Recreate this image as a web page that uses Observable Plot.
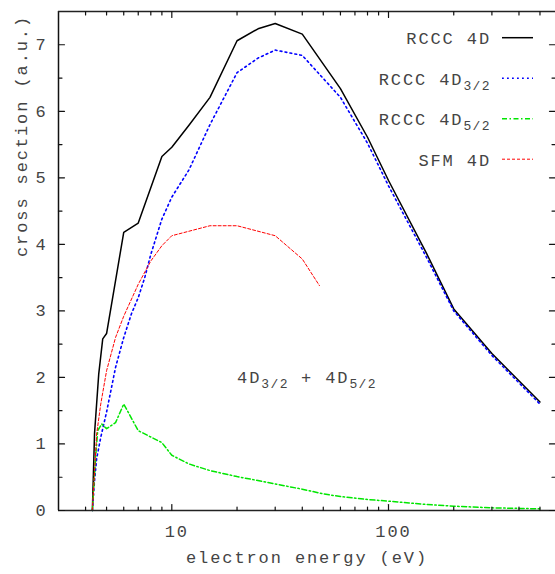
<!DOCTYPE html>
<html><head><meta charset="utf-8">
<script src="https://cdn.jsdelivr.net/npm/d3@7"></script>
<script src="https://cdn.jsdelivr.net/npm/@observablehq/plot@0.6"></script>
<style>
html,body{margin:0;padding:0;background:#fff;overflow:hidden}
</style>
</head><body><div id="chart"></div>
<script>
// ---- data (energy eV, cross section a.u.) ----
const rccc4D = [[4.3,0],[4.4,1.16],[4.6,2.05],[4.8,2.58],[5,2.66],[6,4.18],[7,4.32],[9,5.32],[10,5.46],[12,5.79],[15,6.21],[20,7.06],[25,7.24],[30,7.32],[40,7.16],[60,6.34],[80,5.61],[100,4.96],[150,3.86],[200,3.03],[300,2.36],[500,1.63]];
const rccc4D32 = [[4.3,0],[4.4,0.45],[4.5,0.78],[4.7,1.1],[5,1.48],[5.5,2.15],[6,2.6],[6.5,2.95],[7,3.2],[7.5,3.5],[8,3.85],[9,4.38],[10,4.71],[12,5.12],[15,5.8],[20,6.58],[25,6.8],[30,6.92],[40,6.84],[60,6.21],[80,5.52],[100,4.88],[150,3.8],[200,3.0],[300,2.33],[500,1.6]];
const rccc4D52 = [[4.3,0],[4.45,0.8],[4.55,1.2],[4.75,1.3],[5,1.23],[5.5,1.32],[6,1.6],[7,1.2],[9,1.02],[10,0.83],[12,0.7],[15,0.6],[20,0.51],[30,0.4],[40,0.32],[50,0.25],[60,0.21],[80,0.165],[100,0.14],[150,0.09],[200,0.065],[300,0.04],[500,0.025]];
const sfm4D = [[4.3,0],[4.5,1.15],[4.7,1.6],[5,2.1],[5.5,2.6],[6,2.92],[7,3.4],[8,3.75],[9,3.98],[10,4.13],[15,4.28],[20,4.28],[30,4.13],[40,3.78],[48,3.38]];

const seriesLabels = ["RCCC 4D", "RCCC 4D_{3/2}", "RCCC 4D_{5/2}", "SFM 4D"];
const annotation = [{x: 20, y: 2, text: "4D_{3/2} + 4D_{5/2}"}];

const xMajorTicks = [10, 100];
const xMinorTicks = [4,5,6,7,8,9,20,30,40,50,60,70,80,90,200,300,400,500];
const yMajorTicks = [0,1,2,3,4,5,6,7];
const yMinorTicks = [0.5,1.5,2.5,3.5,4.5,5.5,6.5];
const xDomain = [3, 600];
const yDomain = [0, 7.5];
const xTitle = "electron energy (eV)";
const yTitle = "cross section (a.u.)";

// ---- styles ----
const FONT = "'Liberation Mono', 'DejaVu Sans Mono', monospace";
const TEXT = "#444";
const styles = [
  {data: rccc4D,   stroke: "#000000", width: 1.5, dash: null},
  {data: rccc4D32, stroke: "#0000ff", width: 1.6, dash: "1.8,3.2"},
  {data: rccc4D52, stroke: "#00e600", width: 1.5, dash: "5,2.5,1.5,2.5"},
  {data: sfm4D,    stroke: "#ff0000", width: 1,   dash: "3,2"}
];

const W = 555, H = 574, mL = 58, mT = 11, mB = 64, mR = 0;
const decadePx = 216.7;

const tickShape = {draw(ctx, l) { ctx.moveTo(0, 0); ctx.lineTo(0, -l); }};
const tickMark = (values, ch, anchor, rotate, len) =>
  Plot.vector(values, {[ch]: d => d, frameAnchor: anchor, rotate, length: len, anchor: "start", shape: tickShape, stroke: "#111", strokeWidth: 1.2});

const chart = Plot.plot({
  width: W, height: H,
  marginLeft: mL, marginTop: mT, marginBottom: mB, marginRight: mR,
  x: {type: "log", domain: xDomain, range: [mL, mL + Math.log10(xDomain[1] / xDomain[0]) * decadePx]},
  y: {domain: yDomain},
  style: {fontFamily: FONT, fontSize: "17px", color: TEXT, background: "#fff", letterSpacing: "1.9px", overflow: "hidden"},
  marks: [
    ...styles.map(s => Plot.line(s.data, {x: d => d[0], y: d => d[1], stroke: s.stroke, strokeWidth: s.width, strokeDasharray: s.dash})),
    // frame (left, top, bottom)
    Plot.ruleX([xDomain[0]], {stroke: "#111", strokeWidth: 1.5}),
    Plot.ruleY([yDomain[0]], {stroke: "#222", strokeWidth: 1.6}),
    Plot.ruleY([yDomain[1]], {stroke: "#222", strokeWidth: 1.5}),
    // inward ticks
    tickMark(xMajorTicks, "x", "bottom", 0, 6),
    tickMark(xMinorTicks, "x", "bottom", 0, 3.5),
    tickMark(xMajorTicks, "x", "top", 180, 6),
    tickMark(xMinorTicks, "x", "top", 180, 3.5),
    tickMark(yMajorTicks, "y", "left", 90, 6),
    tickMark(yMinorTicks, "y", "left", 90, 3.5),
    tickMark(yMajorTicks, "y", "right", -90, 6),
    tickMark(yMinorTicks, "y", "right", -90, 3.5),
    // tick labels
    Plot.axisY({ticks: yMajorTicks, tickSize: 0, tickPadding: 11, tickFormat: d => String(d), label: null, fill: TEXT}),
    Plot.axisX({ticks: xMajorTicks, tickSize: 0, tickPadding: 14, dx: 5, tickFormat: d => String(d), label: null, fill: TEXT}),
    // axis titles
    Plot.text([yTitle], {text: d => d, frameAnchor: "left", dx: -37, dy: -4, rotate: -90, fill: TEXT}),
    Plot.text([xTitle], {text: d => d, frameAnchor: "bottom", dy: 52, fill: TEXT}),
    // annotation
    Plot.text(annotation, {x: "x", y: "y", text: "text", textAnchor: "start", fill: TEXT, className: "annot"})
  ]
});

// rich text with subscripts: "A_{b}" -> tspans
function richText(sel, str, subSize) {
  sel.text(null);
  const parts = str.split(/(_\{[^}]*\})/).filter(p => p.length);
  let shifted = false;
  parts.forEach(p => {
    if (p.startsWith("_{")) {
      sel.append("tspan").attr("dy", 5).attr("font-size", subSize).attr("letter-spacing", "1.4px").text(p.slice(2, -1));
      shifted = true;
    } else {
      const t = sel.append("tspan").text(p);
      if (shifted) { t.attr("dy", -5); shifted = false; }
    }
  });
}

const svg = d3.select(chart);
svg.selectAll("g.annot text").each(function(d, i) {
  richText(d3.select(this), annotation[i].text, 13);
});

// legend (inside the frame, top right)
const legend = svg.append("g").attr("font-family", FONT).attr("font-size", 17).attr("fill", TEXT);
seriesLabels.forEach((lab, i) => {
  const y = 37.7 + i * 40.5;
  const t = legend.append("text").attr("x", 491).attr("y", y + 6.3).attr("text-anchor", "end");
  richText(t, lab, 13);
  const s = styles[i];
  legend.append("line").attr("x1", 502).attr("x2", 533).attr("y1", y).attr("y2", y)
    .attr("stroke", s.stroke).attr("stroke-width", s.width).attr("stroke-dasharray", s.dash);
});

document.getElementById("chart").appendChild(chart);
</script>
</body></html>
